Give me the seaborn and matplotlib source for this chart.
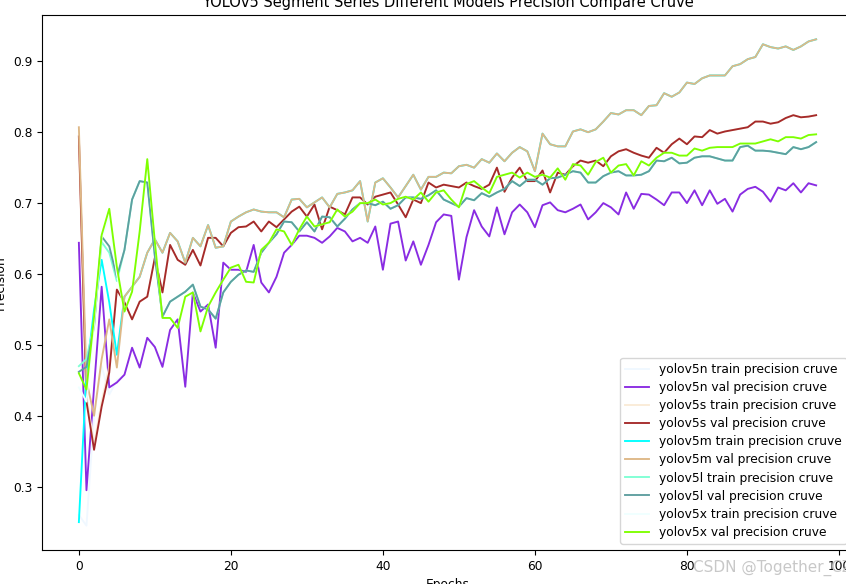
import numpy as np
import matplotlib
matplotlib.use("Agg")
import matplotlib.pyplot as plt
import seaborn as sns

# val precision curves (epochs 0..97)
n_val = [0.644, 0.295, 0.44, 0.582, 0.44, 0.447, 0.458, 0.496, 0.468, 0.51,
         0.497, 0.469, 0.521, 0.536, 0.441, 0.574, 0.547, 0.557, 0.496, 0.616,
         0.606, 0.606, 0.603, 0.641, 0.588, 0.574, 0.596, 0.63, 0.641, 0.654,
         0.654, 0.651, 0.644, 0.653, 0.665, 0.66, 0.646, 0.651, 0.644, 0.667,
         0.606, 0.671, 0.674, 0.619, 0.646, 0.613, 0.641, 0.673, 0.684, 0.682,
         0.592, 0.652, 0.69, 0.667, 0.653, 0.694, 0.656, 0.687, 0.698, 0.687,
         0.666, 0.697, 0.701, 0.69, 0.687, 0.692, 0.698, 0.677, 0.687, 0.70,
         0.694, 0.684, 0.715, 0.692, 0.713, 0.712, 0.705, 0.697, 0.715, 0.715,
         0.70, 0.718, 0.697, 0.718, 0.699, 0.706, 0.688, 0.712, 0.72, 0.723,
         0.716, 0.702, 0.722, 0.718, 0.728, 0.715, 0.728, 0.725]
s_val = [0.794, 0.42, 0.352, 0.413, 0.461, 0.578, 0.56, 0.536, 0.561, 0.568,
         0.623, 0.574, 0.641, 0.62, 0.613, 0.634, 0.612, 0.651, 0.651, 0.639,
         0.658, 0.666, 0.667, 0.674, 0.66, 0.674, 0.666, 0.677, 0.688, 0.695,
         0.681, 0.698, 0.663, 0.695, 0.69, 0.684, 0.708, 0.708, 0.698, 0.709,
         0.712, 0.715, 0.698, 0.68, 0.705, 0.70, 0.729, 0.722, 0.726, 0.724,
         0.722, 0.729, 0.724, 0.72, 0.726, 0.75, 0.716, 0.736, 0.75, 0.731,
         0.731, 0.746, 0.715, 0.743, 0.74, 0.752, 0.76, 0.757, 0.76, 0.752,
         0.766, 0.773, 0.776, 0.771, 0.767, 0.764, 0.778, 0.771, 0.783, 0.791,
         0.783, 0.794, 0.793, 0.803, 0.798, 0.801, 0.803, 0.805, 0.807, 0.815,
         0.815, 0.812, 0.814, 0.82, 0.824, 0.821, 0.822, 0.824]
m_val = [0.807, 0.45, 0.40, 0.48, 0.536, 0.468, 0.568, 0.582, 0.596, 0.63,
         0.649, 0.63, 0.658, 0.646, 0.616, 0.651, 0.639, 0.669, 0.637, 0.639,
         0.674, 0.681, 0.687, 0.691, 0.688, 0.687, 0.687, 0.68, 0.705, 0.706,
         0.694, 0.701, 0.708, 0.694, 0.713, 0.715, 0.718, 0.731, 0.674, 0.729,
         0.735, 0.722, 0.708, 0.724, 0.74, 0.719, 0.737, 0.737, 0.743, 0.742,
         0.752, 0.754, 0.75, 0.762, 0.757, 0.77, 0.759, 0.771, 0.779, 0.773,
         0.745, 0.798, 0.783, 0.78, 0.78, 0.801, 0.804, 0.80, 0.804, 0.815,
         0.827, 0.825, 0.831, 0.831, 0.824, 0.837, 0.838, 0.855, 0.85, 0.856,
         0.87, 0.868, 0.876, 0.88, 0.88, 0.88, 0.893, 0.896, 0.903, 0.906,
         0.924, 0.92, 0.918, 0.921, 0.916, 0.921, 0.928, 0.931]
l_val = [0.462, 0.469, 0.526, 0.653, 0.639, 0.596, 0.634, 0.705, 0.731, 0.729,
         0.625, 0.54, 0.561, 0.568, 0.575, 0.585, 0.554, 0.55, 0.537, 0.574,
         0.589, 0.599, 0.605, 0.603, 0.63, 0.644, 0.656, 0.674, 0.673, 0.66,
         0.673, 0.66, 0.681, 0.68, 0.667, 0.678, 0.691, 0.70, 0.70, 0.697,
         0.702, 0.692, 0.697, 0.708, 0.708, 0.706, 0.711, 0.718, 0.705, 0.70,
         0.695, 0.707, 0.704, 0.714, 0.709, 0.715, 0.72, 0.731, 0.724, 0.733,
         0.733, 0.726, 0.735, 0.736, 0.74, 0.745, 0.743, 0.729, 0.729, 0.738,
         0.743, 0.745, 0.739, 0.739, 0.74, 0.745, 0.76, 0.759, 0.764, 0.756,
         0.757, 0.764, 0.766, 0.766, 0.763, 0.76, 0.76, 0.779, 0.781, 0.774,
         0.774, 0.773, 0.771, 0.769, 0.779, 0.776, 0.779, 0.786]
x_val = [0.46, 0.437, 0.54, 0.655, 0.692, 0.61, 0.547, 0.575, 0.66, 0.762,
         0.645, 0.538, 0.538, 0.524, 0.568, 0.574, 0.519, 0.554, 0.574, 0.592,
         0.609, 0.613, 0.589, 0.588, 0.634, 0.644, 0.663, 0.66, 0.641, 0.663,
         0.681, 0.667, 0.67, 0.673, 0.691, 0.681, 0.688, 0.70, 0.70, 0.705,
         0.698, 0.70, 0.706, 0.709, 0.705, 0.715, 0.702, 0.715, 0.718, 0.705,
         0.694, 0.727, 0.731, 0.722, 0.714, 0.737, 0.74, 0.743, 0.736, 0.743,
         0.737, 0.74, 0.736, 0.749, 0.733, 0.755, 0.753, 0.74, 0.758, 0.764,
         0.743, 0.753, 0.755, 0.739, 0.759, 0.753, 0.764, 0.771, 0.771, 0.767,
         0.767, 0.777, 0.774, 0.778, 0.779, 0.779, 0.779, 0.784, 0.784, 0.784,
         0.787, 0.79, 0.787, 0.793, 0.793, 0.791, 0.796, 0.797]

# train curves: differ in the first epochs, then run on top of the val curves
n_train = [0.26, 0.245, 0.40, 0.47, 0.43, 0.45] + n_val[6:]
s_train = [0.78, 0.43, 0.36, 0.42, 0.47] + s_val[5:]
m_train = [0.25, 0.46, 0.55, 0.62, 0.56, 0.486] + m_val[6:]
l_train = [0.47, 0.48, 0.53, 0.645, 0.63, 0.59] + l_val[6:]
x_train = [0.44, 0.42, 0.53, 0.65, 0.68, 0.60] + x_val[6:]

models = ["yolov5n", "yolov5s", "yolov5m", "yolov5l", "yolov5x"]
train_curves = [n_train, s_train, m_train, l_train, x_train]
val_curves = [n_val, s_val, m_val, l_val, x_val]
train_colors = ["aliceblue", "antiquewhite", "aqua", "aquamarine", "azure"]
val_colors = ["blueviolet", "brown", "burlywood", "cadetblue", "chartreuse"]

epochs = np.arange(len(n_val))

# screenshot is a scaled-down render, so everything is a bit smaller than default
plt.rcParams["font.size"] = 8.8
plt.rcParams["lines.linewidth"] = 1.35

fig = plt.figure(figsize=(8.46, 5.84), dpi=100)
# the reference is a cropped screenshot: the axes run past the right edge
ax = fig.add_axes([42 / 846, 34 / 584, 811 / 846, 535 / 584])

for name, tr, va, ct, cv in zip(models, train_curves, val_curves, train_colors, val_colors):
    sns.lineplot(x=epochs, y=tr, color=ct, label=f"{name} train precision cruve", ax=ax)
    sns.lineplot(x=epochs, y=va, color=cv, label=f"{name} val precision cruve", ax=ax)

ax.set_title("YOLOv5 Segment Series Different Models Precision Compare Cruve")
ax.set_xlabel("Epochs")
ax.set_ylabel("Precision")
ax.set_xticks([0, 20, 40, 60, 80, 100])
ax.legend(loc="lower right", labelspacing=0.42)

fig.text(693 / 846, 1 - 568 / 584, "CSDN @Together_CZ", color="#c8c8c8",
         fontsize=11, va="center", ha="left")

fig.savefig("out.png", dpi=100)
